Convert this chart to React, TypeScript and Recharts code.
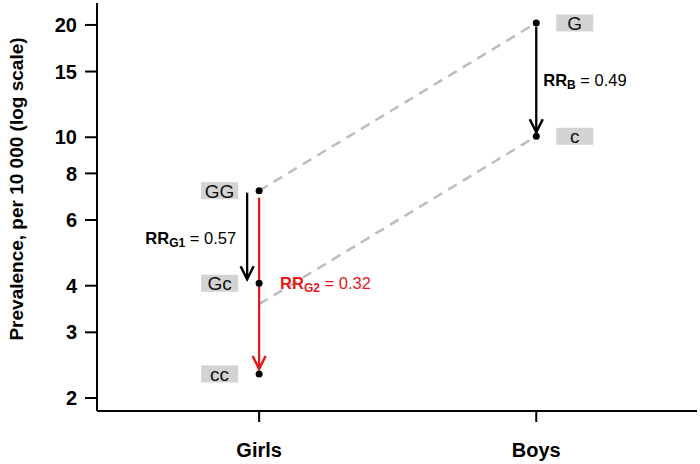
import React from 'react';
import { ComposedChart, Line, Scatter, XAxis, YAxis, ReferenceLine } from 'recharts';

const GROUPS = ['Girls', 'Boys'];
const GIRLS_GENOTYPES = ['GG', 'Gc', 'cc'];
const GIRLS_PREVALENCE = [7.19, 4.06, 2.32];
const BOYS_GENOTYPES = ['G', 'c'];
const BOYS_PREVALENCE = [20.25, 10.06];
// dashed guide lines: girls-side value -> boys-side value
const TREND_START = [7.19, 3.57];
const TREND_END = [20.25, 10.06];
const Y_TICKS = [2, 3, 4, 6, 8, 10, 15, 20];
const RR_NAMES = ['G1', 'G2', 'B'];
const RR_VALUES = ['0.57', '0.32', '0.49'];

const FONT = '"Liberation Sans", Arial, Helvetica, sans-serif';
const RED = '#e3191c';

const points = [
  ...GIRLS_GENOTYPES.map((g, i) => ({ x: 1, y: GIRLS_PREVALENCE[i], label: g, side: 'left' })),
  ...BOYS_GENOTYPES.map((g, i) => ({ x: 2, y: BOYS_PREVALENCE[i], label: g, side: 'right' })),
];

const trends = TREND_START.map((s, i) => [
  { x: 1, y: s },
  { x: 2, y: TREND_END[i] },
]);

const arrows = [
  { x: 1, from: GIRLS_PREVALENCE[0], to: GIRLS_PREVALENCE[1], name: RR_NAMES[0], value: RR_VALUES[0] },
  { x: 1, from: GIRLS_PREVALENCE[0], to: GIRLS_PREVALENCE[2], name: RR_NAMES[1], value: RR_VALUES[1] },
  { x: 2, from: BOYS_PREVALENCE[0], to: BOYS_PREVALENCE[1], name: RR_NAMES[2], value: RR_VALUES[2] },
];

// pixel styling per arrow: horizontal offset, shaft trims, label placement
const ARROW_STYLE = [
  { dx: -12, startGap: 2, endGap: 4, color: '#000', lx: -11, anchor: 'end', labelAt: 0.52 },
  { dx: 0, startGap: 7, endGap: 5, color: RED, lx: 21, anchor: 'start', labelAt: 0.5 },
  { dx: 0, startGap: 4, endGap: 4, color: '#000', lx: 7, anchor: 'start', labelAt: 0.5 },
];

const PointShape = (props: any) => {
  const { cx, cy, payload } = props;
  const bx = payload.side === 'left' ? cx - 58 : cx + 20;
  return (
    <g>
      <circle cx={cx} cy={cy} r={3.5} fill="#000" />
      <rect x={bx} y={cy - 8.5} width={37} height={17} fill="#d3d3d3" />
      <text x={bx + 18.5} y={cy + 7} textAnchor="middle" fontSize={19} fontFamily={FONT} fill="#111">
        {payload.label}
      </text>
    </g>
  );
};

const makeArrowShape = (idx: number) => (props: any) => {
  const st = ARROW_STYLE[idx];
  const a = arrows[idx];
  const x = props.x1 + st.dx;
  const y1 = props.y1 + st.startGap;
  const y2 = props.y2 - st.endGap;
  const ly = y1 + (y2 - y1) * st.labelAt;
  return (
    <g>
      <line x1={x} y1={y1} x2={x} y2={y2} stroke={st.color} strokeWidth={2.3} />
      <polyline
        points={`${x - 6.5},${y2 - 13} ${x},${y2} ${x + 6.5},${y2 - 13}`}
        fill="none"
        stroke={st.color}
        strokeWidth={2.5}
      />
      <text x={x + st.lx} y={ly + 6} textAnchor={st.anchor} fontFamily={FONT} fill={st.color} fontSize={16.5}>
        <tspan fontWeight="bold">RR</tspan>
        <tspan fontWeight="bold" fontSize={12} dy={3}>{a.name}</tspan>
        <tspan dy={-3}>{' = ' + a.value}</tspan>
      </text>
    </g>
  );
};

const YLabel = () => (
  <text
    x={23}
    y={189}
    transform="rotate(-90 23 189)"
    textAnchor="middle"
    fontSize={19}
    fontWeight="bold"
    fontFamily={FONT}
    fill="#000"
  >
    Prevalence, per 10 000 (log scale)
  </text>
);

export default function App() {
  return (
    <div style={{ position: 'absolute', left: 0, top: 0, background: '#fff' }}>
      <ComposedChart width={700} height={464} margin={{ top: 3, right: 3, bottom: 8, left: 37 }}>
        <XAxis
          type="number"
          dataKey="x"
          domain={[0.415, 2.58]}
          ticks={[1, 2]}
          tickFormatter={(v: number) => GROUPS[v - 1]}
          allowDataOverflow
          height={45}
          tickSize={11}
          tickMargin={21}
          axisLine={{ stroke: '#000', strokeWidth: 2 }}
          tickLine={{ stroke: '#000', strokeWidth: 2 }}
          tick={{ fontSize: 20, fontWeight: 'bold', fill: '#000', fontFamily: FONT }}
        />
        <YAxis
          type="number"
          dataKey="y"
          scale="log"
          domain={[1.846, 22.9]}
          ticks={Y_TICKS}
          allowDataOverflow
          width={60}
          tickSize={12}
          tickMargin={8}
          axisLine={{ stroke: '#000', strokeWidth: 2 }}
          tickLine={{ stroke: '#000', strokeWidth: 2 }}
          tick={{ fontSize: 20, fontWeight: 'bold', fill: '#000', fontFamily: FONT }}
          label={{ content: () => <YLabel /> }}
        />
        {trends.map((t, i) => (
          <Line
            key={'trend' + i}
            data={t}
            dataKey="y"
            stroke="#bdbdbd"
            strokeWidth={2.5}
            strokeDasharray="10 7"
            dot={false}
            activeDot={false}
            isAnimationActive={false}
          />
        ))}
        {arrows.map((a, i) => (
          <ReferenceLine
            key={'arrow' + i}
            segment={[
              { x: a.x, y: a.from },
              { x: a.x, y: a.to },
            ]}
            shape={makeArrowShape(i)}
          />
        ))}
        <Scatter data={points} dataKey="y" shape={PointShape} isAnimationActive={false} />
      </ComposedChart>
    </div>
  );
}
